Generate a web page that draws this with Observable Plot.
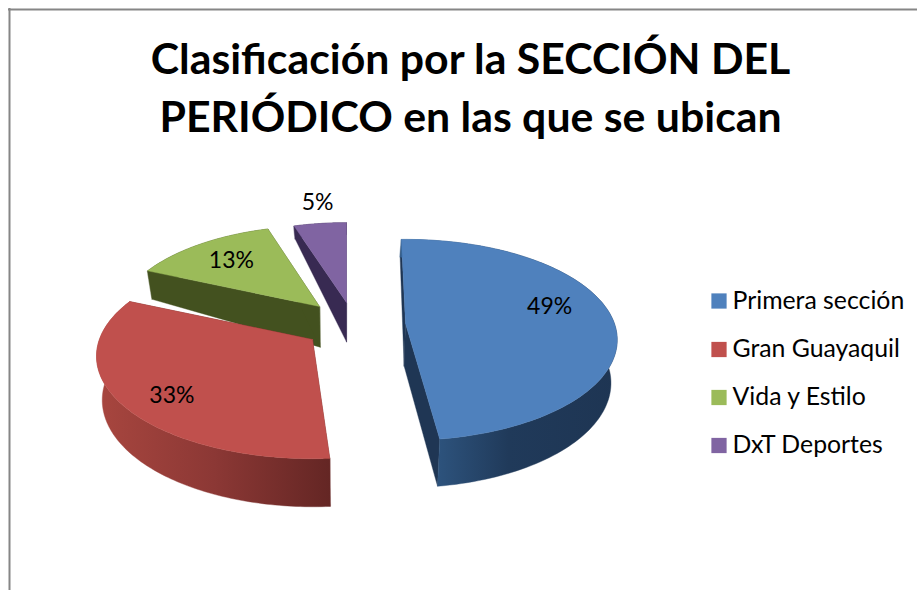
<!DOCTYPE html>
<html lang="es">
<head>
<meta charset="utf-8">
<script src="https://cdn.jsdelivr.net/npm/d3@7"></script>
<script src="https://cdn.jsdelivr.net/npm/@observablehq/plot@0.6"></script>
<style>html,body{margin:0;padding:0;background:#fff}svg{display:block}</style>
</head>
<body>
<div id="chart"></div>
<script>
// Data
const categories = ["Primera sección", "Gran Guayaquil", "Vida y Estilo", "DxT Deportes"];
const percents = [49, 33, 13, 5];
const titleLines = ["Clasificación por la SECCIÓN DEL", "PERIÓDICO en las que se ubican"];

// Colours
const topColors = ["#4f81bd", "#c0504d", "#9bbb59", "#8064a2"];
const wallColors = ["#1f3654", "#6b2a28", "#43511f", "#382a52"];
const rimStops = [
  ["#34608f", "#203a5a", "#1e3553"],
  ["#a8463f", "#8c3835", "#642624"],
  ["#43511f", "#43511f", "#43511f"],
  ["#382a52", "#382a52", "#382a52"]
];

// Layout of the exploded slices
const centerX = [405, 312, 319, 346];
const centerY = [323, 339, 306, 302];
const sliceScale = [0.99, 1.01, 0.95, 0.94];
const startNudge = [0, 1, 0, 1.5];
const endNudge = [-3, 0, 2, 1.3];
const labelAngle = [76, 229.8, -41.9, -7.7];
const labelRadius = [0.739, 0.773, 0.738, 1.262];
const legendY = [300.5, 349, 397, 445];
const rotation = -1.3, Rx = 211, Ry = 98.8, persp = 0.163;
const depthAt = d3.scaleLinear().domain([225, 310, 457]).range([13, 42, 48]);
const vanishX = 345, shrink = 0.023;

function project(i, deg, r = 1) {
  const t = deg * Math.PI / 180, s = r * sliceScale[i] / (1 + persp * Math.cos(t));
  return [centerX[i] + Rx * Math.sin(t) * s, centerY[i] - Ry * Math.cos(t) * s];
}
const down = ([x, y]) => [x + (vanishX - x) * shrink, y + depthAt(y)];

const cum = d3.cumsum(percents);
const total = d3.sum(percents);
const slices = percents.map((v, i) => {
  const a0 = rotation + ((cum[i] - v) / total) * 360 + startNudge[i];
  const a1 = rotation + (cum[i] / total) * 360 + endNudge[i];
  const rim = d3.range(0, 121).map(k => project(i, a0 + (a1 - a0) * k / 120));
  const apex = [centerX[i], centerY[i]];
  return {
    i, rim, apex,
    top: [apex, ...rim, apex],
    side: [...rim, ...rim.slice().reverse().map(down)],
    wall0: [apex, rim[0], down(rim[0]), down(apex)],
    wall1: [apex, rim[rim.length - 1], down(rim[rim.length - 1]), down(apex)]
  };
});

const poly = (pts, fill) => Plot.line(pts, {
  x: d => d[0], y: d => d[1], fill, stroke: fill, strokeWidth: 0.4, curve: "linear-closed"
});

const paintOrder = [3, 2, 1, 0];
const sliceMarks = paintOrder.flatMap(i => {
  const s = slices[i];
  return [
    poly(s.wall0, wallColors[i]),
    poly(s.wall1, wallColors[i]),
    poly(s.side, `url(#rim${i})`),
    poly(s.top, topColors[i])
  ];
});

const labelData = percents.map((v, i) => {
  const [x, y] = project(i, labelAngle[i], labelRadius[i]);
  return {x, y, text: v + "%"};
});

const font = "Lato, Carlito, Calibri, sans-serif";

const plot = Plot.plot({
  width: 917, height: 590,
  margin: 0,
  style: {background: "#fff", fontFamily: font},
  x: {domain: [0, 917], range: [0, 917], axis: null},
  y: {domain: [0, 590], range: [0, 590], axis: null},
  marks: [
    Plot.ruleX([9], {y1: 8, y2: 590, stroke: "#868686", strokeWidth: 2}),
    Plot.ruleY([9], {x1: 8, x2: 917, stroke: "#868686", strokeWidth: 2}),
    Plot.text(titleLines, {
      x: 470, y: (d, i) => [60, 118][i], text: d => d,
      fontSize: 42.8, fontWeight: 700, fill: "#000", textAnchor: "middle", lineAnchor: "middle"
    }),
    ...sliceMarks,
    Plot.text(labelData, {x: "x", y: "y", text: "text", fontSize: 23, fill: "#000", lineAnchor: "middle"}),
    Plot.dot(categories, {
      x: 718.5, y: (d, i) => legendY[i], r: 8.6, symbol: "square",
      fill: (d, i) => topColors[i], stroke: "none"
    }),
    Plot.text(categories, {
      x: 732, y: (d, i) => legendY[i], text: d => d,
      fontSize: 24.8, fill: "#000", textAnchor: "start", lineAnchor: "middle"
    })
  ]
});

// Gradients for the curved outer walls
const ns = "http://www.w3.org/2000/svg";
const defs = document.createElementNS(ns, "defs");
rimStops.forEach((stops, i) => {
  const g = document.createElementNS(ns, "linearGradient");
  g.setAttribute("id", "rim" + i);
  stops.forEach((c, k) => {
    const st = document.createElementNS(ns, "stop");
    st.setAttribute("offset", k / (stops.length - 1));
    st.setAttribute("stop-color", c);
    g.appendChild(st);
  });
  defs.appendChild(g);
});
plot.insertBefore(defs, plot.firstChild);
document.getElementById("chart").appendChild(plot);
</script>
</body>
</html>
